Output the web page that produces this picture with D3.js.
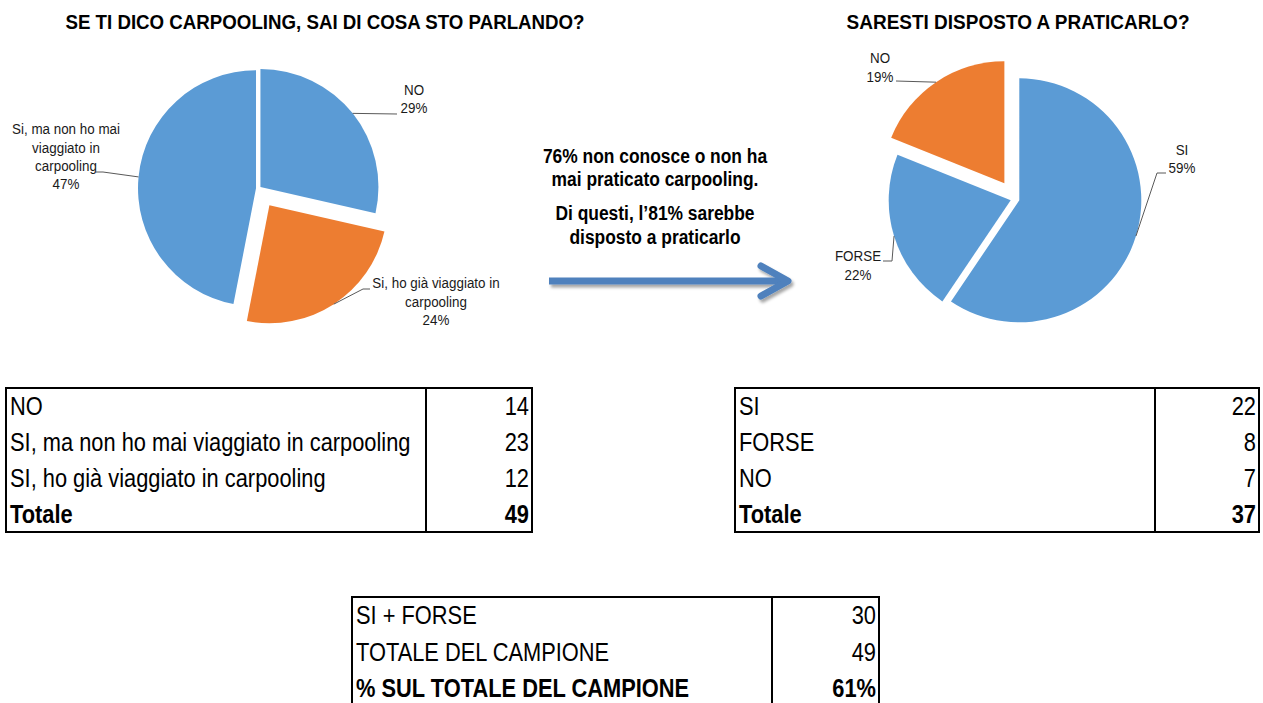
<!DOCTYPE html>
<html>
<head>
<meta charset="utf-8">
<script src="https://cdn.jsdelivr.net/npm/d3@7"></script>
<style>
  body { margin: 0; background: #fff; }
  svg { display: block; font-family: "Liberation Sans", Arial, sans-serif; }
</style>
</head>
<body>
<svg id="chart" width="1263" height="703"></svg>
<script>
// ---- data ----
var leftTitle = "SE TI DICO CARPOOLING, SAI DI COSA STO PARLANDO?";
var rightTitle = "SARESTI DISPOSTO A PRATICARLO?";

var leftPieValues = [14, 12, 23];
var leftPieLabels = [["NO"], ["Si, ho già viaggiato in", "carpooling"], ["Si, ma non ho mai", "viaggiato in", "carpooling"]];

var rightPieValues = [22, 8, 7];
var rightPieLabels = [["SI"], ["FORSE"], ["NO"]];

var noteLines = ["76% non conosce o non ha", "mai praticato carpooling.", "Di questi, l\u201981% sarebbe", "disposto a praticarlo"];

var table1Labels = ["NO", "SI, ma non ho mai viaggiato in carpooling", "SI, ho già viaggiato in carpooling", "Totale"];
var table1Values = ["14", "23", "12", "49"];
var table2Labels = ["SI", "FORSE", "NO", "Totale"];
var table2Values = ["22", "8", "7", "37"];
var table3Labels = ["SI + FORSE", "TOTALE DEL CAMPIONE", "% SUL TOTALE DEL CAMPIONE"];
var table3Values = ["30", "49", "61%"];

// ---- styles / layout ----
var blue = "#5b9bd5", orange = "#ed7d31";
var textColor = "#1a1a1a";

var leftLayout = {
    cx: 258.5, cy: 188.5, r: 118,
    colors: [blue, orange, blue],
    explode: [2.5, 20, 2.5],
    labelPos: [[414, 90], [436, 283], [66, 129]],
    lineGap: [18, 18.3, 18.3],
    leader: [[[397, 114]], [[363, 289], [370, 289]], [[103, 172], [96, 172]]]
};

var rightLayout = {
    cx: 1015, cy: 199, r: 122,
    colors: [blue, blue, orange],
    explode: [4.5, 4.5, 19],
    labelPos: [[1182, 150], [858, 256], [880, 58]],
    lineGap: [18, 19, 18.4],
    leader: [[[1157, 173], [1166, 173]], [[892, 261], [883, 261]], [[896, 81]]]
};

var svg = d3.select("#chart");

svg.append("rect").attr("width", 1263).attr("height", 703).attr("fill", "#fff");

// text squeezed horizontally to mimic a narrow font
function addText(g, x, y, str, size, sx, weight, anchor) {
    return g.append("text")
        .attr("transform", "translate(" + x + "," + y + ") scale(" + sx + ",1)")
        .attr("text-anchor", anchor || "middle")
        .attr("dominant-baseline", "central")
        .attr("font-size", size)
        .attr("font-weight", weight || "normal")
        .attr("fill", textColor)
        .text(str);
}

function drawPie(values, labels, lay) {
    var g = svg.append("g");
    var total = d3.sum(values);
    var arcs = d3.pie().sort(null).value(function(d) { return d; })(values);
    var arc = d3.arc().innerRadius(0).outerRadius(lay.r);

    arcs.forEach(function(d, i) {
        var mid = (d.startAngle + d.endAngle) / 2;
        var ox = lay.cx + lay.explode[i] * Math.sin(mid);
        var oy = lay.cy - lay.explode[i] * Math.cos(mid);

        g.append("path")
            .attr("d", arc(d))
            .attr("transform", "translate(" + ox + "," + oy + ")")
            .attr("fill", lay.colors[i]);

        // leader line from the slice edge to the label
        var pts = [[ox + lay.r * Math.sin(mid), oy - lay.r * Math.cos(mid)]].concat(lay.leader[i]);
        g.append("path")
            .attr("d", d3.line()(pts))
            .attr("fill", "none")
            .attr("stroke", "#595959")
            .attr("stroke-width", 1);

        var lines = labels[i].concat([Math.round(d.value / total * 100) + "%"]);
        lines.forEach(function(t, j) {
            addText(g, lay.labelPos[i][0], lay.labelPos[i][1] + j * lay.lineGap[i], t, 15, 0.893);
        });
    });
}

function drawTable(x, y, w, divX, h, rowH, labels, values) {
    var g = svg.append("g");
    var rowScale = d3.scaleBand().domain(d3.range(labels.length)).range([y, y + rowH * labels.length]);
    var last = labels.length - 1;

    labels.forEach(function(t, i) {
        var yc = rowScale(i) + rowScale.bandwidth() / 2;
        var bold = i == last ? "bold" : "normal";
        addText(g, x + 4, yc, t, 26, 0.84, bold, "start").attr("fill", "#000");
        addText(g, x + w - 3, yc, values[i], 26, 0.84, bold, "end").attr("fill", "#000");
    });

    g.append("rect")
        .attr("x", x).attr("y", y).attr("width", w).attr("height", h)
        .attr("fill", "none").attr("stroke", "#000").attr("stroke-width", 2);
    g.append("line")
        .attr("x1", divX).attr("x2", divX).attr("y1", y).attr("y2", y + h)
        .attr("stroke", "#000").attr("stroke-width", 2);
}

//#region titles
addText(svg, 325, 22, leftTitle, 20, 0.935, "bold").attr("fill", "#000");
addText(svg, 1018, 22, rightTitle, 20, 0.95, "bold").attr("fill", "#000");
//#endregion

//#region pies
drawPie(leftPieValues, leftPieLabels, leftLayout);
drawPie(rightPieValues, rightPieLabels, rightLayout);
//#endregion

//#region middle note and arrow
var noteY = [156, 179.5, 213.5, 237];
noteLines.forEach(function(t, i) {
    addText(svg, 655, noteY[i], t, 20, 0.87, "bold").attr("fill", "#000");
});

var defs = svg.append("defs");
defs.append("filter").attr("id", "shadow")
    .attr("x", "-10%").attr("y", "-50%").attr("width", "130%").attr("height", "250%")
    .append("feDropShadow")
    .attr("dx", 2).attr("dy", 3).attr("stdDeviation", 1.8)
    .attr("flood-color", "#000").attr("flood-opacity", 0.35);

var arrow = svg.append("g").attr("filter", "url(#shadow)")
    .attr("stroke", "#4f81bd").attr("stroke-width", 7).attr("fill", "none")
    .attr("stroke-linecap", "round").attr("stroke-linejoin", "round");
arrow.append("line").attr("x1", 549).attr("x2", 786).attr("y1", 281).attr("y2", 281)
    .attr("stroke-linecap", "butt");
arrow.append("path").attr("d", d3.line()([[761, 266], [788, 281], [761, 296]]));
//#endregion

//#region tables
drawTable(6, 388, 526, 426, 144, 36, table1Labels, table1Values);
drawTable(735, 388, 524, 1155, 144, 36, table2Labels, table2Values);
drawTable(352, 597, 527, 772, 130, 36.3, table3Labels, table3Values);
//#endregion
</script>
</body>
</html>
